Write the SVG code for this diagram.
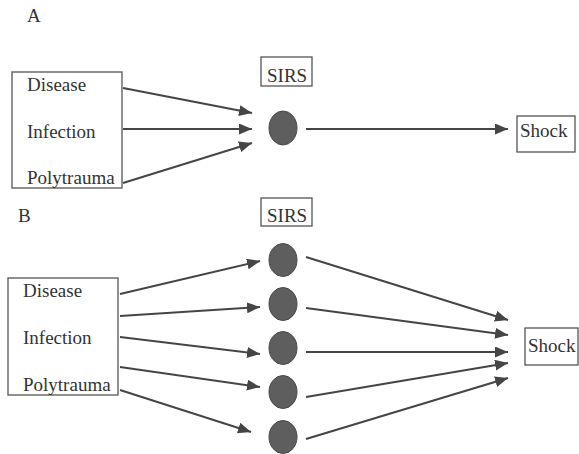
<svg xmlns="http://www.w3.org/2000/svg" width="579" height="454" viewBox="0 0 579 454">
<style>
.box{fill:none;stroke:#555;stroke-width:1.3}
.dot{fill:#5e5e5e;stroke:#4a4a4a;stroke-width:1}
.c{stroke:#454545;stroke-width:2;fill:none;marker-end:url(#ah)}
text{font-family:"Liberation Serif","Times New Roman",serif;font-size:19px;fill:#333}
</style>
<defs>
<marker id="ah" markerUnits="userSpaceOnUse" markerWidth="14" markerHeight="11" refX="13" refY="5.5" orient="auto">
<path d="M0,0 L13,5.5 L0,11 Z" fill="#454545"/>
</marker>
</defs>
<rect x="0" y="0" width="579" height="454" fill="#ffffff"/>
<text x="27" y="22">A</text>
<text x="18" y="222">B</text>

<g id="connectors">
<line class="c" x1="123" y1="88" x2="252" y2="113"/>
<line class="c" x1="123" y1="129" x2="252" y2="129"/>
<line class="c" x1="123" y1="183" x2="252" y2="143"/>
<line class="c" x1="306" y1="129" x2="508" y2="129"/>
<line class="c" x1="120" y1="294" x2="260" y2="261"/>
<line class="c" x1="120" y1="316" x2="260" y2="307"/>
<line class="c" x1="120" y1="337" x2="260" y2="354"/>
<line class="c" x1="120" y1="367" x2="260" y2="387"/>
<line class="c" x1="120" y1="390" x2="251" y2="432"/>
<line class="c" x1="306" y1="257" x2="508" y2="320"/>
<line class="c" x1="306" y1="308" x2="508" y2="335"/>
<line class="c" x1="306" y1="352" x2="508" y2="352"/>
<line class="c" x1="306" y1="397" x2="508" y2="363"/>
<line class="c" x1="306" y1="439" x2="508" y2="378"/>
</g>

<g id="a-causes">
<rect class="box" x="12" y="72" width="110" height="116"/>
<text x="27" y="91">Disease</text>
<text x="27" y="138">Infection</text>
<text x="27" y="184">Polytrauma</text>
</g>
<g id="a-sirs-label">
<rect class="box" x="261" y="57" width="51" height="29"/>
<text x="267" y="82">SIRS</text>
</g>
<g id="a-sirs"><ellipse class="dot" cx="283" cy="128" rx="14" ry="17"/></g>
<g id="a-shock">
<rect class="box" x="517" y="116" width="58" height="36"/>
<text x="520" y="137">Shock</text>
</g>

<g id="b-causes">
<rect class="box" x="8" y="278" width="110" height="117"/>
<text x="23" y="297">Disease</text>
<text x="23" y="344">Infection</text>
<text x="23" y="391">Polytrauma</text>
</g>
<g id="b-sirs-label">
<rect class="box" x="261" y="198" width="51" height="28"/>
<text x="267" y="222">SIRS</text>
</g>
<g id="b-sirs-1"><ellipse class="dot" cx="283" cy="260" rx="14" ry="16.5"/></g>
<g id="b-sirs-2"><ellipse class="dot" cx="283" cy="304" rx="14" ry="16.5"/></g>
<g id="b-sirs-3"><ellipse class="dot" cx="283" cy="348" rx="14" ry="16.5"/></g>
<g id="b-sirs-4"><ellipse class="dot" cx="283" cy="392" rx="14" ry="16.5"/></g>
<g id="b-sirs-5"><ellipse class="dot" cx="283" cy="437" rx="14" ry="16.5"/></g>
<g id="b-shock">
<rect class="box" x="525" y="328" width="53" height="37"/>
<text x="528" y="352">Shock</text>
</g>
</svg>
